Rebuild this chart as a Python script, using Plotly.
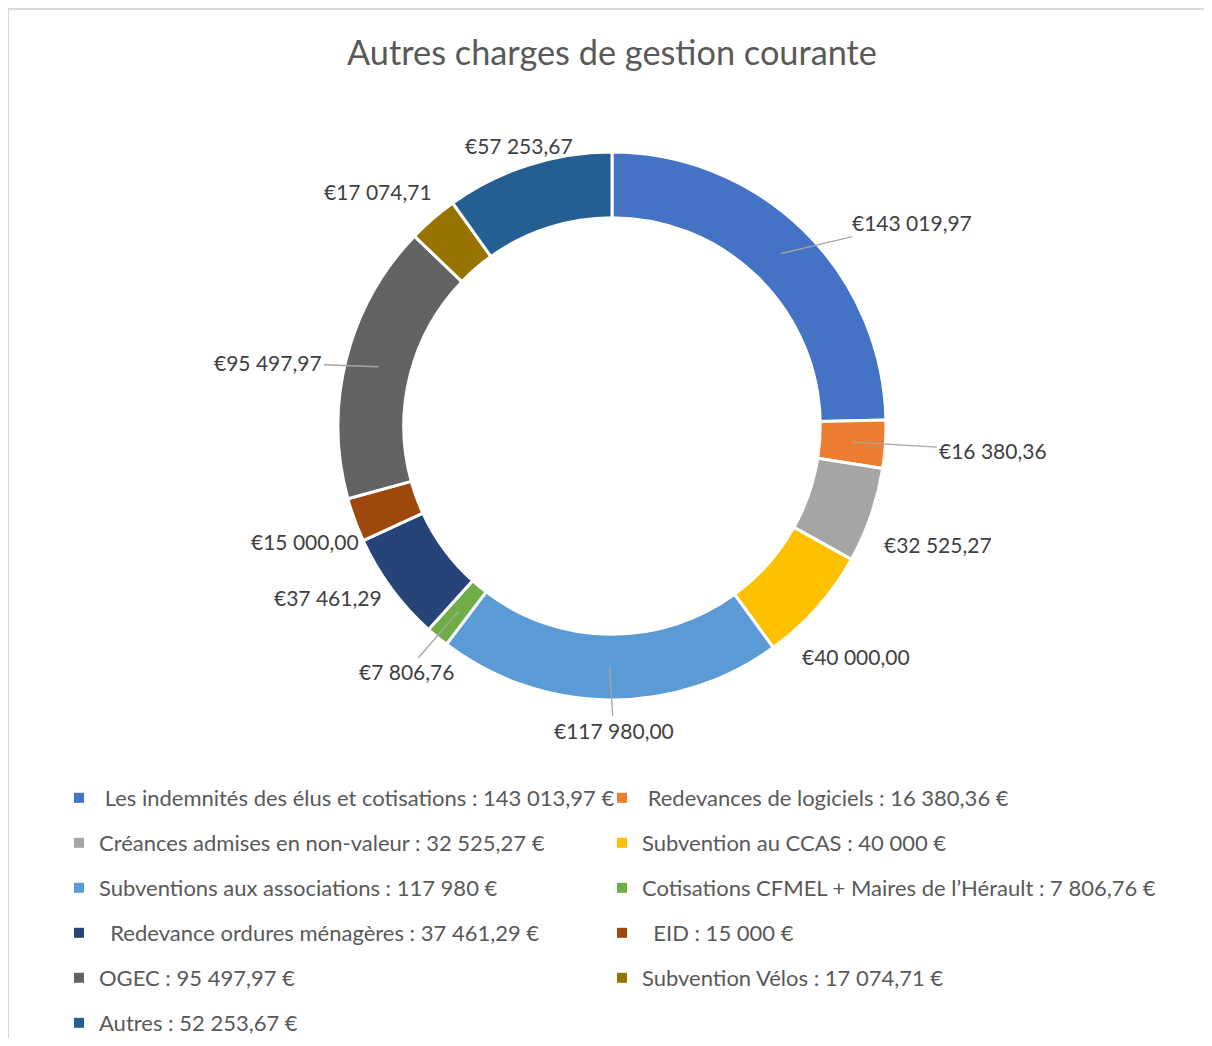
import math
import plotly.graph_objects as go

# ---------------- data ----------------
title_text = "Autres charges de gestion courante"
categories = [
    "Les indemnités des élus et cotisations",
    "Redevances de logiciels",
    "Créances admises en non-valeur",
    "Subvention au CCAS",
    "Subventions aux associations",
    "Cotisations CFMEL + Maires de l’Hérault",
    "Redevance ordures ménagères",
    "EID",
    "OGEC",
    "Subvention Vélos",
    "Autres",
]
values = [143019.97, 16380.36, 32525.27, 40000.00, 117980.00, 7806.76,
          37461.29, 15000.00, 95497.97, 17074.71, 57253.67]
legend_labels = [
    "\u00a0Les indemnités des élus et cotisations : 143 013,97 €",
    "\u00a0Redevances de logiciels : 16 380,36 €",
    "Créances admises en non-valeur : 32 525,27 €",
    "Subvention au CCAS : 40 000 €",
    "Subventions aux associations : 117 980 €",
    "Cotisations CFMEL + Maires de l’Hérault : 7 806,76 €",
    "\u00a0\u00a0Redevance ordures ménagères : 37 461,29 €",
    "\u00a0\u00a0EID : 15 000 €",
    "OGEC : 95 497,97 €",
    "Subvention Vélos : 17 074,71 €",
    "Autres : 52 253,67 €",
]

# ---------------- style ----------------
colors = ["#4472C4", "#ED7D31", "#A5A5A5", "#FFC000", "#5B9BD5", "#70AD47",
          "#264478", "#9E480E", "#636363", "#997300", "#255E91"]
FONT = "Lato, 'Open Sans', sans-serif"
FIG_W, FIG_H = 1196, 1030
CX, CY, R = 604, 418, 274          # pie centre / radius in figure pixels
HOLE = 0.76
LEG_FONT = 22
# label offset (px) from the middle of the ring at the slice mid-angle
label_offsets = [(131, -31), (140, 8), (98, 40), (64, 71), (4, 63), (-52, 60),
                 (-90, 29), (-81, 33), (-110, -4), (-76, -52), (-19, -51)]
leader = [True, True, False, False, True, True, False, False, True, False, False]


def fmt_eur(v):
    s = f"{v:,.2f}".replace(",", " ").replace(".", ",")
    return "€" + s


fig = go.Figure()

fig.add_trace(go.Pie(
    values=values,
    labels=categories,
    sort=False,
    direction="clockwise",
    rotation=0,
    hole=HOLE,
    marker=dict(colors=colors, line=dict(color="white", width=3)),
    textinfo="none",
    hoverinfo="label+value",
    showlegend=False,
    domain=dict(x=[(CX - R) / FIG_W, (CX + R) / FIG_W],
                y=[1 - (CY + R) / FIG_H, 1 - (CY - R) / FIG_H]),
))

# legend entries (two columns)
for i, (lab, col) in enumerate(zip(legend_labels, colors)):
    fig.add_trace(go.Scatter(
        x=[None], y=[None], mode="markers",
        marker=dict(symbol="square", size=10, color=col),
        name=lab,
        legend="legend" if i % 2 == 0 else "legend2",
        legendgroup=f"g{i}",
        showlegend=True,
        hoverinfo="skip",
    ))

# data labels with leader lines
total = sum(values)
annotations = []
cum = 0.0
r_mid = R * (1 + HOLE) / 2
for i, v in enumerate(values):
    mid = (cum + v / 2) / total * 2 * math.pi
    cum += v
    px = CX + r_mid * math.sin(mid)
    py = CY - r_mid * math.cos(mid)
    dx, dy = label_offsets[i]
    annotations.append(dict(
        x=px / FIG_W, y=1 - py / FIG_H, xref="paper", yref="paper",
        ax=dx, ay=dy, axref="pixel", ayref="pixel",
        text=fmt_eur(v),
        showarrow=True, arrowhead=0, arrowwidth=1.3,
        arrowcolor="#A6A6A6" if leader[i] else "rgba(0,0,0,0)",
        standoff=0, startstandoff=0,
        font=dict(family=FONT, size=21, color="#404040"),
    ))

legend_style = dict(
    orientation="v", yanchor="top", xanchor="left",
    font=dict(family=FONT, size=LEG_FONT, color="#595959"),
    bgcolor="rgba(0,0,0,0)", tracegroupgap=13.4, traceorder="grouped",
    itemclick=False, itemdoubleclick=False,
)

fig.update_layout(
    width=FIG_W, height=FIG_H,
    margin=dict(l=0, r=0, t=0, b=0, pad=0, autoexpand=False),
    paper_bgcolor="white", plot_bgcolor="rgba(0,0,0,0)",
    title=dict(text=title_text, x=(612 - 8) / FIG_W, xanchor="center",
               y=1 - (53 - 8) / FIG_H, yanchor="middle",
               xref="paper", yref="paper",
               font=dict(family=FONT, size=34.3, color="#595959")),
    xaxis=dict(visible=False), yaxis=dict(visible=False),
    legend=dict(x=(59 - 8) / FIG_W, y=1 - (777 - 8) / FIG_H, **legend_style),
    legend2=dict(x=(602 - 8) / FIG_W, y=1 - (777 - 8) / FIG_H, **legend_style),
    annotations=annotations,
    shapes=[dict(type="rect", xref="paper", yref="paper",
                 x0=0 / FIG_W, y0=1 - 1 / FIG_H, x1=1.2, y1=-0.2,
                 line=dict(color="#D9D9D9", width=2), fillcolor="rgba(0,0,0,0)")],
    showlegend=True,
)

fig.write_html("out.html")
